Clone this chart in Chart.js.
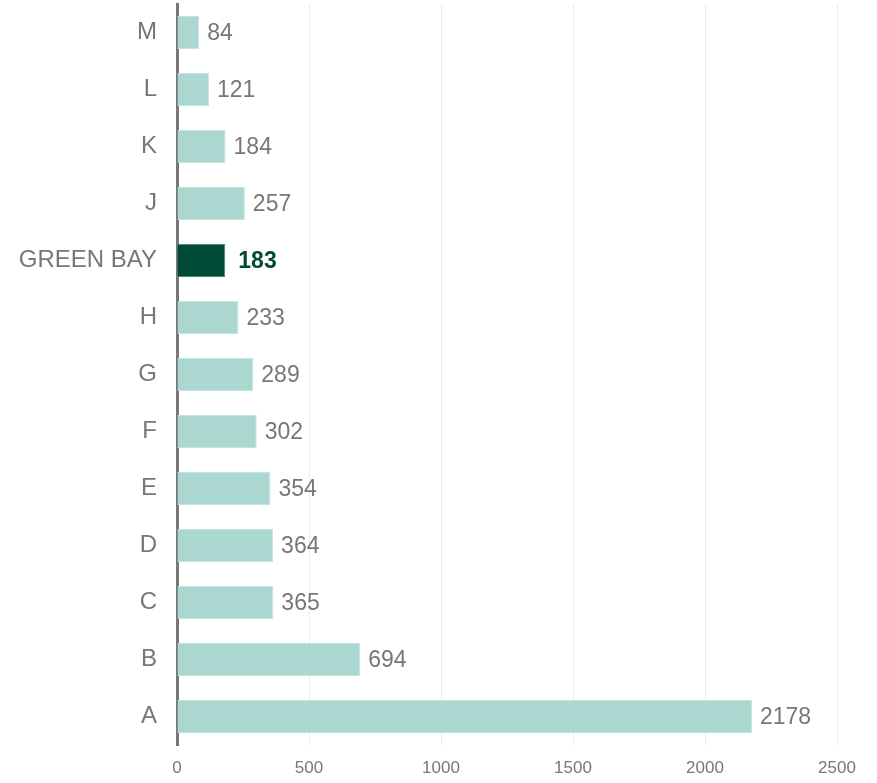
<!DOCTYPE html>
<html>
<head>
<meta charset="utf-8">
<script src="https://cdn.jsdelivr.net/npm/chart.js@4"></script>
<style>
  html, body { margin: 0; padding: 0; background: #fff; }
  #wrap { width: 877px; height: 783px; }
</style>
</head>
<body>
<div id="wrap"><canvas id="myBarChart"></canvas></div>
<script>
// data, top to bottom
let categories = ["M", "L", "K", "J", "GREEN BAY", "H", "G", "F", "E", "D", "C", "B", "A"];
let values = [84, 121, 184, 257, 183, 233, 289, 302, 354, 364, 365, 694, 2178];
let xTicks = [0, 500, 1000, 1500, 2000, 2500];
let highlight = "GREEN BAY";

let barColor = "#aad7d0";
let barBorder = "#c4e4de";
let hiColor = "#004a38";
let hiBorder = "#4d8a7a";
let textGray = "#777777";

// draws the value next to every bar
const valueLabels = {
  id: "valueLabels",
  afterDatasetsDraw(chart) {
    const ctx = chart.ctx;
    const meta = chart.getDatasetMeta(0);
    ctx.save();
    ctx.textBaseline = "middle";
    ctx.textAlign = "left";
    meta.data.forEach((bar, i) => {
      let isHi = categories[i] == highlight;
      ctx.font = (isHi ? "bold " : "") + "23px 'Liberation Sans', Arial, sans-serif";
      ctx.fillStyle = isHi ? hiColor : textGray;
      ctx.fillText(String(values[i]), bar.x + (isHi ? 13 : 8), bar.y + 1);
    });
    ctx.restore();
  }
};

const ctx = document.getElementById("myBarChart").getContext("2d");
const myBarChart = new Chart(ctx, {
  type: "bar",
  data: {
    labels: categories,
    datasets: [{
      data: values,
      backgroundColor: categories.map(c => c == highlight ? hiColor : barColor),
      borderColor: categories.map(c => c == highlight ? hiBorder : barBorder),
      borderWidth: 1,
      borderSkipped: "left",
      barPercentage: 0.58,
      categoryPercentage: 1.0
    }]
  },
  options: {
    indexAxis: "y",
    responsive: true,
    maintainAspectRatio: false,
    animation: false,
    layout: { padding: { top: 4, right: 40, bottom: 0, left: 0 } },
    plugins: {
      legend: { display: false },
      tooltip: { enabled: false }
    },
    scales: {
      x: {
        min: 0,
        max: 2500,
        afterBuildTicks: (scale) => { scale.ticks = xTicks.map(v => ({ value: v })); },
        afterFit: (scale) => { scale.height = 38; scale.paddingLeft = 0; scale.paddingRight = 0; },
        grid: { color: "#ececec", lineWidth: 1, drawTicks: false },
        border: { display: false },
        ticks: {
          padding: 13,
          color: textGray,
          callback: (v) => String(v),
          font: { family: "'Liberation Sans Narrow', 'Liberation Sans', sans-serif", size: 17 }
        }
      },
      y: {
        afterFit: (scale) => { scale.width = 177; scale.paddingTop = 0; scale.paddingBottom = 0; },
        grid: { display: false, drawTicks: false },
        border: { display: true, color: "#777777", width: 3 },
        ticks: {
          padding: 20,
          color: textGray,
          font: { family: "'Liberation Sans', Arial, sans-serif", size: 24 }
        }
      }
    }
  },
  plugins: [valueLabels]
});
</script>
</body>
</html>
